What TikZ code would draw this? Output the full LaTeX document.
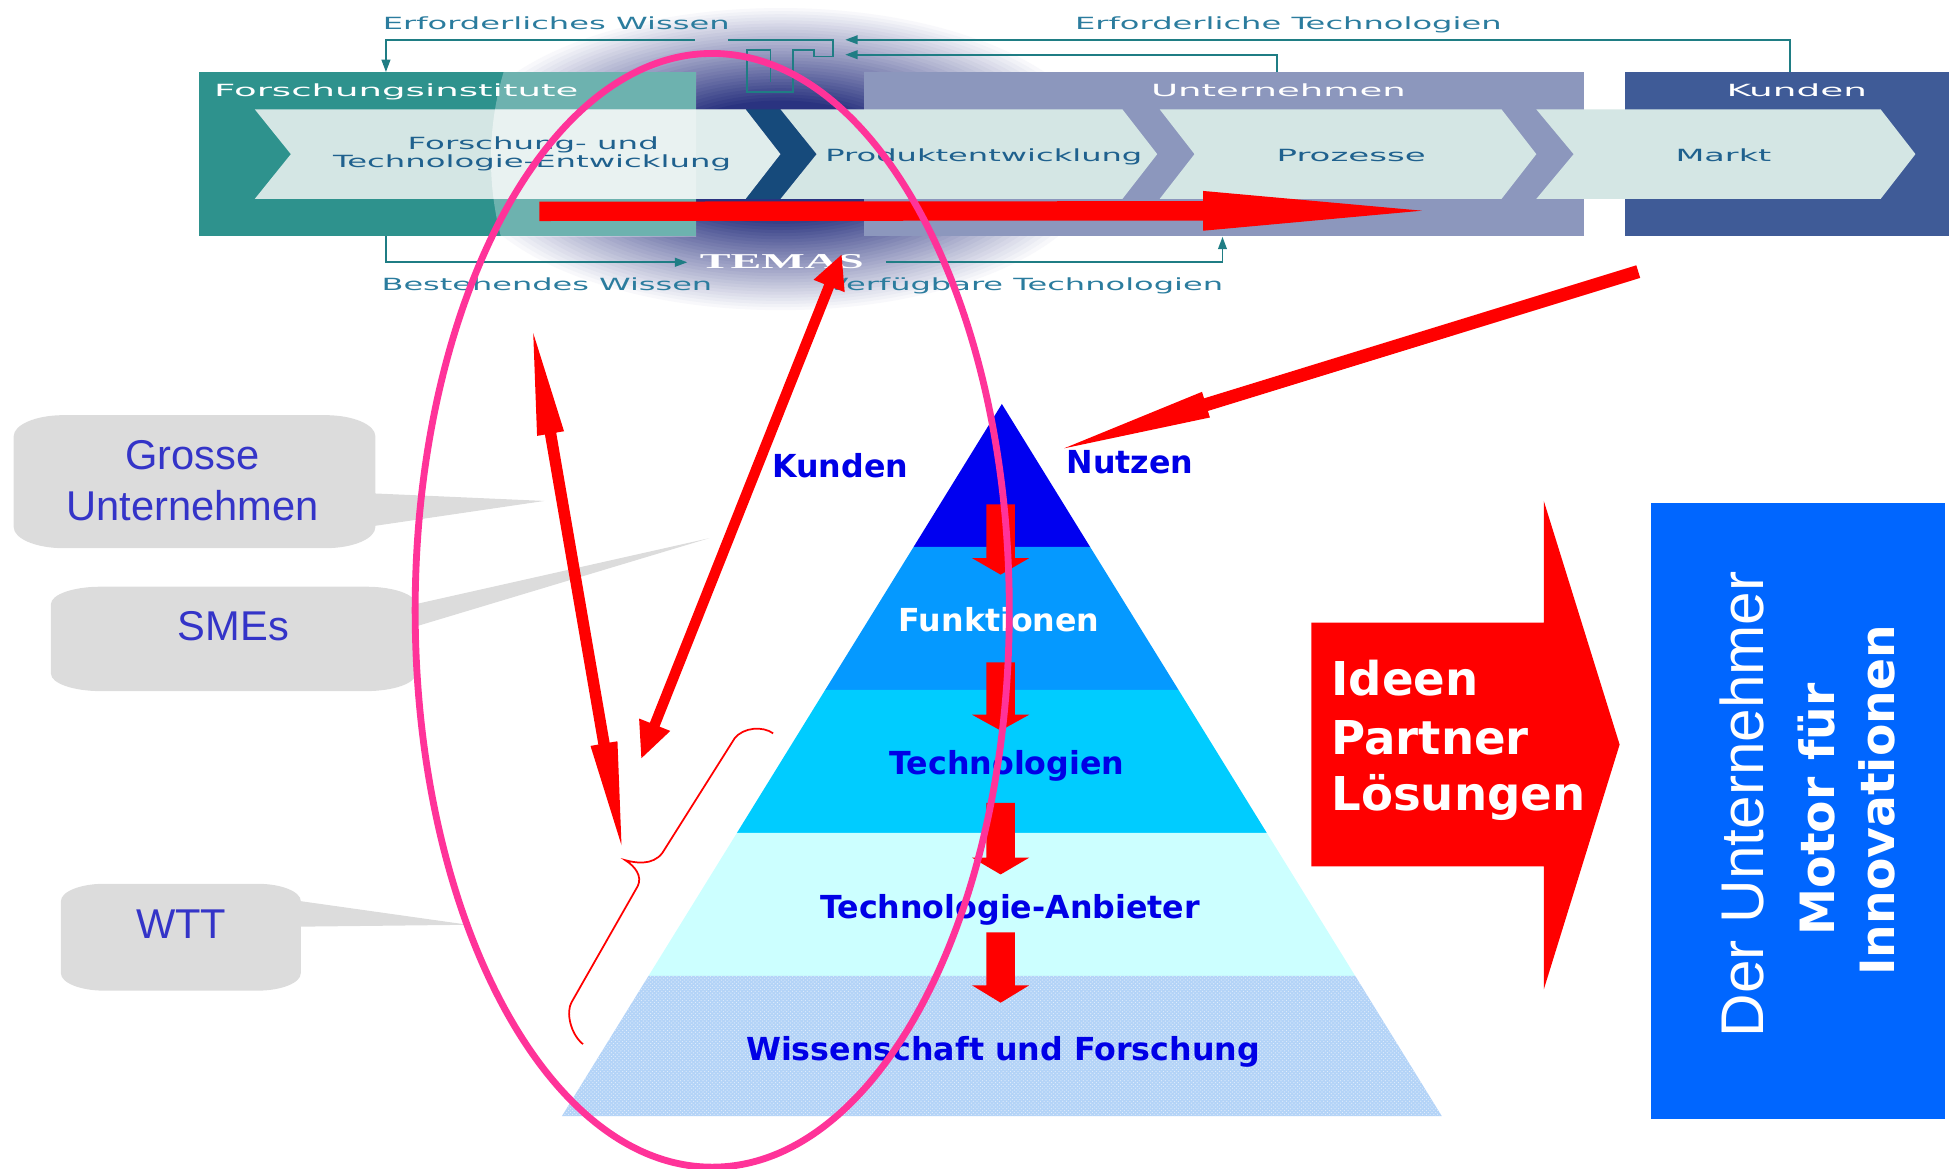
\documentclass[tikz,border=0pt]{standalone}
\usepackage{fontspec}
\usetikzlibrary{calc,arrows.meta,patterns}
\newfontfamily\dvs{DejaVu Sans}
\newfontfamily\lib{Liberation Sans}
\newfontfamily\libserif{Liberation Serif}
\definecolor{forsch}{HTML}{2E928D}
\definecolor{unter}{HTML}{8C97BD}
\definecolor{kund}{HTML}{3F5B97}
\definecolor{chev}{HTML}{D4E6E4}
\definecolor{chevdark}{HTML}{164A7B}
\definecolor{glowdark}{HTML}{2A3380}
\definecolor{tealline}{HTML}{1F7D84}
\definecolor{toptext}{HTML}{2B7C9E}
\definecolor{chevtext}{HTML}{1F618E}
\definecolor{callgray}{HTML}{DCDCDC}
\definecolor{calltext}{HTML}{3434C8}
\definecolor{pyrA}{HTML}{0000F0}
\definecolor{pyrB}{HTML}{0599FF}
\definecolor{pyrC}{HTML}{00CCFF}
\definecolor{pyrD}{HTML}{CCFFFF}
\definecolor{pyrE}{HTML}{B3D3F7}
\definecolor{pyrtext}{HTML}{0000E6}
\definecolor{pinkc}{HTML}{FF3399}
\definecolor{bluebox}{HTML}{0066FF}
\definecolor{arrred}{HTML}{FF0000}
\newcommand\bt[2]{\resizebox{#1pt}{\height}{\dvs\fontsize{13.5}{15}\selectfont #2}}
\newcommand\blockarrow[5]{%
  \coordinate (hb) at ($(#2)!#4pt!(#1)$);
  \fill[arrred] ($(#1)!#3pt!90:(#2)$) -- ($(hb)!#3pt!-90:(#1)$) -- ($(hb)!#5pt!-90:(#1)$) -- (#2)
    -- ($(hb)!#5pt!90:(#1)$) -- ($(hb)!#3pt!90:(#1)$) -- ($(#1)!#3pt!-90:(#2)$) -- cycle;}
\newcommand\dblarrow[6]{%
  \coordinate (ha) at ($(#1)!#4pt!(#2)$);
  \coordinate (hb) at ($(#2)!#6pt!(#1)$);
  \fill[arrred] (#1) -- ($(ha)!#5pt!90:(#2)$) -- ($(ha)!#3pt!90:(#2)$) -- ($(hb)!#3pt!-90:(#1)$)
    -- ($(hb)!#5pt!-90:(#1)$) -- (#2) -- ($(hb)!#5pt!90:(#1)$) -- ($(hb)!#3pt!90:(#1)$)
    -- ($(ha)!#3pt!-90:(#2)$) -- ($(ha)!#5pt!-90:(#2)$) -- cycle;}
\tikzset{
  tline/.style={draw=tealline, line width=1.5pt},
  tarrow/.style={tline, -{Triangle[length=10pt,width=7pt]}},
  toplabel/.style={inner sep=0pt, anchor=base, text=toptext},
  chevlabel/.style={inner sep=0pt, anchor=base, text=chevtext},
  boxlabel/.style={inner sep=0pt, anchor=base, text=white},
  pyrlabel/.style={inner sep=0pt, anchor=base, text=pyrtext, font=\dvs\bfseries\fontsize{25.5}{30}\selectfont},
  calllabel/.style={inner sep=0pt, anchor=base, text=calltext, font=\lib\fontsize{33.5}{38}\selectfont},
  bigword/.style={inner sep=0pt, anchor=base west, text=white, font=\dvs\bfseries\fontsize{37.5}{42}\selectfont},
}
\begin{document}
\begin{tikzpicture}[x=1pt,y=-1pt]
\useasboundingbox (0,0) rectangle (1568,940);
% ---------------- top banner ----------------
% soft halo (stacked ellipses from outside to inside)
\foreach \k in {0,...,44}{
  \pgfmathsetmacro\rr{1-\k/50}
  \pgfmathsetmacro\pp{min(100,max(0,100*(1-\rr)/0.62))}
  \fill[glowdark!\pp!white] (628,128) ellipse [x radius={265*\rr}, y radius={124*\rr}];
}
\fill[forsch] (160,58) rectangle (560,190);
\fill[unter] (695,58) rectangle (1274,190);
\fill[kund] (1307,58) rectangle (1568,190);
\fill[chev] (205,88) -- (600,88) -- (628,124) -- (600,160) -- (205,160) -- (234,124) -- cycle;
\fill[chevdark] (600,88) -- (628,88) -- (657,124) -- (628,160) -- (600,160) -- (628,124) -- cycle;
\fill[chev] (628,88) -- (903,88) -- (931,124) -- (903,160) -- (628,160) -- (657,124) -- cycle;
\fill[chev] (933,88) -- (1208,88) -- (1236,124) -- (1208,160) -- (933,160) -- (961,124) -- cycle;
\fill[chev] (1236,88) -- (1513,88) -- (1541,124) -- (1513,160) -- (1236,160) -- (1266,124) -- cycle;
\begin{scope}
  \clip (160,58) rectangle (560,190);
  \fill[white, opacity=0.3] (640,128) circle (245);
\end{scope}
\begin{scope}
  \clip (205,88) -- (600,88) -- (628,124) -- (600,160) -- (205,160) -- (234,124) -- cycle;
  \fill[white, opacity=0.3] (640,128) circle (245);
\end{scope}
% banner labels
\node[toplabel] (erfw) at (447.5,23.5) {\bt{279}{Erforderliches Wissen}};
\node[toplabel] (erft) at (1036.5,23.5) {\bt{343}{Erforderliche Technologien}};
\node[boxlabel, anchor=base west] (fi) at (172,78) {\bt{293}{Forschungsinstitute}};
\node[boxlabel] (un) at (1028.5,78) {\bt{205}{Unternehmen}};
\node[boxlabel] (ku) at (1445.5,78) {\bt{113}{Kunden}};
\node[chevlabel] (fu1) at (429,120) {\bt{202}{Forschung- und}};
\node[chevlabel] (fu2) at (428,135) {\bt{320}{Technologie-Entwicklung}};
\node[chevlabel] (pe) at (791.5,130) {\bt{255}{Produktentwicklung}};
\node[chevlabel] (pr) at (1087,130) {\bt{120}{Prozesse}};
\node[chevlabel] (ma) at (1386.5,130) {\bt{77}{Markt}};
\node[toplabel] (bw) at (440,234) {\bt{266}{Bestehendes Wissen}};
\node[toplabel] (vt) at (824.5,234) {\bt{319}{Verfügbare Technologien}};
\node[boxlabel] (temas) at (629,216) {\resizebox{132pt}{\height}{\libserif\bfseries\fontsize{17}{20}\selectfont TEMAS}};
% teal connectors
\coordinate (ew0) at (559,32); \coordinate (ew1) at (310.5,32); \coordinate (ew2) at (310.5,58);
\draw[tarrow] (ew0) -- (ew1) -- (ew2);
\coordinate (et0) at (1440,58); \coordinate (et1) at (1440,32); \coordinate (et2) at (680,32);
\draw[tarrow] (et0) -- (et1) -- (et2);
\coordinate (eu0) at (1027.5,58); \coordinate (eu1) at (1027.5,44); \coordinate (eu2) at (680,44);
\draw[tarrow] (eu0) -- (eu1) -- (eu2);
\coordinate (bw0) at (310.5,190); \coordinate (bw1) at (310.5,211); \coordinate (bw2) at (553,211);
\draw[tarrow] (bw0) -- (bw1) -- (bw2);
\coordinate (vt0) at (713,211); \coordinate (vt1) at (983.5,211); \coordinate (vt2) at (983.5,190.5);
\draw[tarrow] (vt0) -- (vt1) -- (vt2);
% T logo
\draw[tline, line width=1.3pt] (586,32) -- (670,32) -- (670,45.6) -- (655,45.6) -- (655,40) -- (638,40) -- (638,74) -- (601,74) -- (601,40) -- (620,40) -- (620,66);
% ---------------- pyramid ----------------
\fill[pyrA] (806,325) -- (877,440) -- (735,440) -- cycle;
\fill[pyrB] (735,440) -- (877,440) -- (948.1,555) -- (663.9,555) -- cycle;
\fill[pyrC] (663.9,555) -- (948.1,555) -- (1019.1,670) -- (592.9,670) -- cycle;
\fill[pyrD] (592.9,670) -- (1019.1,670) -- (1090.2,785) -- (521.8,785) -- cycle;
\fill[pyrE] (521.8,785) -- (1090.2,785) -- (1160,898) -- (452,898) -- cycle;
\fill[pattern=crosshatch dots, pattern color=white!60!pyrE] (521.8,785) -- (1090.2,785) -- (1160,898) -- (452,898) -- cycle;
\node[pyrlabel] (kunden) at (676,383.8) {Kunden};
\node[pyrlabel] (nutzen) at (909,380.6) {Nutzen};
\node[pyrlabel, text=white] (funk) at (803.8,507.8) {Funktionen};
\node[pyrlabel] (tech) at (810,622.7) {Technologien};
\node[pyrlabel] (anb) at (812.6,738.6) {Technologie-Anbieter};
\node[pyrlabel] (wiss) at (806.9,852.8) {Wissenschaft und Forschung};
% ---------------- callouts ----------------
\fill[callgray] (51,334) -- (262,334) arc[start angle=-90,end angle=0,x radius=40,y radius=17] -- (302,397) -- (438,403) -- (302,423) -- (302,424) arc[start angle=0,end angle=90,x radius=40,y radius=17] -- (51,441) arc[start angle=90,end angle=180,x radius=40,y radius=17] -- (11,351) arc[start angle=180,end angle=270,x radius=40,y radius=17] -- cycle;
\fill[callgray] (81,472) -- (294.5,472) arc[start angle=-90,end angle=0,x radius=40,y radius=14] -- (570.5,433) -- (334.5,504) -- (334.5,542) arc[start angle=0,end angle=90,x radius=40,y radius=14] -- (81,556) arc[start angle=90,end angle=180,x radius=40,y radius=14] -- (41,486) arc[start angle=180,end angle=270,x radius=40,y radius=14] -- cycle;
\fill[callgray] (84,711) -- (207,711) arc[start angle=-90,end angle=0,x radius=35,y radius=14] -- (376.7,744) -- (242,745.5) -- (242,783) arc[start angle=0,end angle=90,x radius=35,y radius=14] -- (84,797) arc[start angle=90,end angle=180,x radius=35,y radius=14] -- (49,725) arc[start angle=180,end angle=270,x radius=35,y radius=14] -- cycle;
\node[calllabel] (gr1) at (155,378) {Grosse};
\node[calllabel] (gr2) at (155,419) {Unternehmen};
\node[calllabel] (sme) at (187.8,515.6) {SMEs};
\node[calllabel] (wtt) at (145.7,754.8) {WTT};
% ---------------- red arrows ----------------
\coordinate (pa1t) at (805,405.8); \coordinate (pa1h) at (805,462.3);
\coordinate (pa2t) at (805,532.8); \coordinate (pa2h) at (805,587.7);
\coordinate (pa3t) at (805,646);   \coordinate (pa3h) at (805,703.5);
\coordinate (pa4t) at (805,750);   \coordinate (pa4h) at (805,806.7);
\blockarrow{pa1t}{pa1h}{11.5}{13.3}{23}
\blockarrow{pa2t}{pa2h}{11.5}{12.7}{23}
\blockarrow{pa3t}{pa3h}{11.5}{13.5}{23}
\blockarrow{pa4t}{pa4h}{11.5}{14}{23}
\coordinate (hzt) at (434,170); \coordinate (hzh) at (1144,169.5);
\blockarrow{hzt}{hzh}{7.8}{176}{16}
\coordinate (nut) at (1318,218.5); \coordinate (nuh) at (856,360.7);
\blockarrow{nut}{nuh}{5.3}{119.5}{10.8}
\coordinate (la1) at (429,268); \coordinate (la2) at (500,680);
\dblarrow{la1}{la2}{4.6}{82}{11}{83}
\coordinate (ka1) at (677,205); \coordinate (ka2) at (516,610);
\dblarrow{ka1}{ka2}{4.2}{27}{13.5}{29}
% brace
\draw[arrred, line width=1.4pt] (622,590) .. controls (614,584) and (598,585) .. (591,594) -- (533,686) .. controls (525,697) and (510,694) .. (503,692) .. controls (511,697) and (517,705) .. (513,713) -- (460,806) .. controls (455,814) and (459,832) .. (469,840);
% pink ellipse
\draw[pinkc, line width=5.5pt] (573,491) ellipse [x radius=239, y radius=448];
% ---------------- big arrow and blue box ----------------
\fill[arrred] (1055,501) -- (1242,501) -- (1242,403) -- (1303,599) -- (1242,796) -- (1242,697) -- (1055,697) -- cycle;
\node[bigword] (ideen) at (1071,559.5) {Ideen};
\node[bigword] (partner) at (1071,607) {Partner};
\node[bigword] (loes) at (1071,652) {Lösungen};
\fill[bluebox] (1328,405) rectangle (1565,900);
\node[inner sep=0pt, anchor=base, rotate=90, text=white, font=\lib\fontsize{48.5}{52}\selectfont] (der) at (1419,647) {Der Unternehmer};
\node[inner sep=0pt, anchor=base, rotate=90, text=white, font=\dvs\bfseries\fontsize{38}{42}\selectfont] (motor) at (1476,651) {Motor für};
\node[inner sep=0pt, anchor=base, rotate=90, text=white, font=\dvs\bfseries\fontsize{38}{42}\selectfont] (innov) at (1524,644) {Innovationen};
\end{tikzpicture}
\end{document}
